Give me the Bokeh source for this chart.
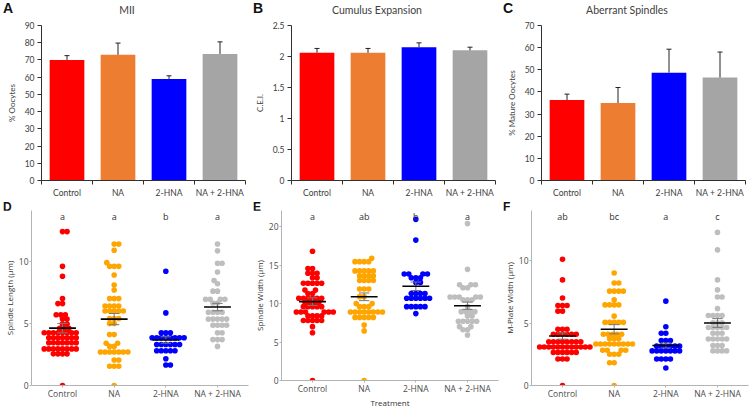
import numpy as np
from bokeh.plotting import figure
from bokeh.layouts import column, row
from bokeh.models import Range1d, FixedTicker, NumeralTickFormatter, Div
from bokeh.core.properties import value
from bokeh.embed import file_html
from bokeh.resources import INLINE

# ---------------- data ----------------
categories = ["Control", "NA", "2-HNA", "NA + 2-HNA"]
bar_colors = ["#FF0000", "#ED7D31", "#0000FF", "#A5A5A5"]
dot_colors = ["#FF0000", "#FFA500", "#0000FF", "#BEBEBE"]

# A: MII
mii_mean = [70.0, 73.0, 59.0, 73.5]
mii_err = [2.5, 6.8, 1.8, 7.0]
# B: Cumulus expansion index
cei_mean = [2.06, 2.06, 2.15, 2.10]
cei_err = [0.07, 0.07, 0.07, 0.05]
# C: Aberrant spindles
aberrant_mean = [36.3, 35.0, 48.7, 46.5]
aberrant_err = [2.7, 7.0, 10.6, 11.5]

# D: Spindle length (um)
length_control = [12.4]*2 + [9.6, 8.8, 7.0] + [6.6]*2 + [5.7]*3 + [5.35]*2 + [4.95]*2 + [4.6]*3 + [4.25]*8 + [3.85]*7 + [3.45]*7 + [2.95]*8 + [2.55]*4 + [0.0]
length_na = [11.4]*2 + [10.9, 9.9] + [9.6]*3 + [8.9, 8.1, 7.7] + [7.0]*3 + [6.4]*4 + [6.0]*5 + [5.4]*3 + [5.0]*2 + [4.1]*2 + [3.4]*2 + [3.15]*2 + [2.7]*7 + [2.05]*2 + [1.55]*3 + [0.0]
length_hna = [9.2, 5.85] + [4.25]*3 + [3.85]*8 + [3.3]*6 + [2.8]*5 + [2.15] + [1.65]*2
length_combo = [11.4, 10.85] + [9.85]*2 + [9.15, 8.45, 8.2] + [7.6]*2 + [6.95]*4 + [6.65]*2 + [5.9]*4 + [5.35]*5 + [4.85]*4 + [4.25]*2 + [3.7]*3 + [3.15]
length_mean = [4.62, 5.35, 3.67, 6.32]
length_se = [0.38, 0.45, 0.26, 0.30]
length_letters = ["a", "a", "b", "a"]

# E: Spindle width (um)
width_control = [16.8] + [14.55]*2 + [13.95]*3 + [13.35]*2 + [12.65]*5 + [11.75]*2 + [11.3]*2 + [10.7]*6 + [10.15]*4 + [9.6]*5 + [8.9]*6 + [8.4]*4 + [7.8]*5 + [7.0, 6.2, 0.0]
width_na = [15.9] + [15.45]*4 + [14.25]*5 + [13.6]*4 + [13.0]*4 + [11.9]*3 + [10.9]*2 + [10.0]*2 + [9.6]*3 + [8.9]*8 + [8.2]*5 + [7.2, 6.45, 0.0]
width_hna = [20.95, 18.25] + [13.85]*4 + [13.35]*3 + [12.75]*2 + [11.3]*4 + [10.7]*6 + [9.6]*5 + [8.7]
width_combo = [20.4, 14.45] + [12.45]*3 + [12.05]*2 + [10.85]*5 + [10.5]*3 + [9.6] + [8.95]*4 + [8.4]*2 + [7.7]*5 + [7.0]*2 + [6.6]*2 + [5.9]
width_mean = [10.25, 10.88, 12.25, 9.72]
width_se = [0.50, 0.50, 0.55, 0.47]
width_letters = ["a", "ab", "b", "a"]

# F: M-plate width (um)
plate_control = [10.1, 8.45, 7.0] + [6.4]*3 + [5.95]*2 + [4.5]*3 + [4.1]*6 + [3.5]*8 + [3.08]*12 + [2.65]*6 + [2.12]*3 + [0.0]
plate_na = [9.0] + [8.2]*2 + [7.55]*4 + [6.85] + [6.45]*4 + [5.55] + [5.05]*5 + [4.1]*5 + [3.75]*3 + [3.32]*9 + [2.82]*4 + [2.5]*3 + [1.82]*2 + [0.0]
plate_hna = [6.75, 4.7] + [4.18]*2 + [3.6]*3 + [3.15]*6 + [2.77]*7 + [2.12]*4 + [1.4]
plate_combo = [12.25, 10.85, 8.45, 7.65] + [7.08]*2 + [6.15] + [5.6]*4 + [5.02]*3 + [4.64]*5 + [4.18]*3 + [3.72]*5 + [3.2]*3 + [2.77]*4
plate_mean = [3.96, 4.50, 3.20, 5.00]
plate_se = [0.25, 0.37, 0.20, 0.35]
plate_letters = ["ab", "bc", "a", "c"]

# ---------------- layout constants ----------------
COL_W = [250, 250, 254]
TOP_HEAD, TOP_FIG = 20, 180
BOT_HEAD, BOT_FIG = 10, 200
TOP_L, TOP_T, TOP_B = 41, 5, 17
BOT_L, BOT_T, BOT_B = 25, 0, 25

TOP_FONT = "Lato"
BOT_FONT = "Open Sans"
xs = np.arange(1, len(categories) + 1)


def top_header(letter, title, w):
    html = (f'<div style="position:relative;width:{w}px;height:{TOP_HEAD}px;overflow:hidden;">'
            f'<span style="position:absolute;left:3px;top:1px;font-family:\'Liberation Sans\';font-weight:bold;'
            f'font-size:14px;line-height:14px;color:#111111;">{letter}</span>'
            f'<span style="position:absolute;left:127px;top:4px;transform:translateX(-50%);white-space:nowrap;'
            f'font-family:Lato;font-size:10.5px;line-height:12px;color:#404040;">{title}</span></div>')
    return Div(text=html, width=w, height=TOP_HEAD, margin=0)


def bottom_header(letter, w):
    html = (f'<div style="position:relative;width:{w}px;height:{BOT_HEAD}px;">'
            f'<span style="position:absolute;left:3px;top:-1px;font-family:\'Liberation Sans\';font-weight:bold;'
            f'font-size:12px;line-height:12px;color:#111111;">{letter}</span></div>')
    return Div(text=html, width=w, height=BOT_HEAD, margin=0)


def bar_panel(ylabel, means, errs, ymax, ystep, w, formatter=None):
    right = w - TOP_L - 204
    x0, x1 = 0.5, len(categories) + 0.5
    p = figure(width=w, height=TOP_FIG, output_backend="svg", toolbar_location=None,
               x_range=Range1d(x0, x1), y_range=Range1d(0, ymax),
               min_border_left=TOP_L, min_border_right=right,
               min_border_top=TOP_T, min_border_bottom=TOP_B)
    p.outline_line_color = None
    p.grid.visible = False

    means = np.array(means)
    errs = np.array(errs)
    p.vbar(x=xs, top=means, width=0.68, fill_color=bar_colors, line_color=None)
    p.segment(x0=xs, y0=means, x1=xs, y1=means + errs, line_color="#222222", line_width=1)
    p.scatter(x=xs, y=means + errs, marker="dash", size=5, line_color="#222222", line_width=1)

    xa = p.xaxis[0]
    xa.ticker = FixedTicker(ticks=list(xs), minor_ticks=list(np.arange(0.5, len(categories) + 1, 1.0)))
    xa.major_label_overrides = {int(i): c for i, c in zip(xs, categories)}
    xa.major_tick_out = 0
    xa.major_tick_in = 0
    xa.minor_tick_out = 4
    xa.minor_tick_in = 0
    xa.major_label_standoff = 3
    ya = p.yaxis[0]
    ya.ticker = FixedTicker(ticks=list(np.arange(0, ymax + ystep / 2, ystep)), minor_ticks=[])
    if formatter is not None:
        ya.formatter = formatter
    ya.major_tick_out = 4
    ya.major_tick_in = 0
    ya.major_label_standoff = 3
    ya.axis_label = ylabel
    ya.axis_label_standoff = 5
    for ax in (xa, ya):
        ax.axis_line_color = "#303030"
        ax.major_tick_line_color = "#303030"
        ax.minor_tick_line_color = "#303030"
        ax.major_label_text_font = TOP_FONT
        ax.major_label_text_font_size = "8.5px"
        ax.major_label_text_color = "#404040"
        ax.axis_label_text_font = TOP_FONT
        ax.axis_label_text_font_size = "8px"
        ax.axis_label_text_font_style = "normal"
        ax.axis_label_text_color = "#404040"
    return p


def swarm_offsets(vals, ppu_x, ppu_y, diam):
    vals = np.asarray(vals, dtype=float)
    order = np.argsort(vals, kind="stable")
    placed = []
    out = np.zeros(len(vals))
    for idx in order:
        ypx = vals[idx] * ppu_y
        cands = [0.0]
        for px, py in placed:
            dy = ypx - py
            if abs(dy) < diam:
                dx = np.sqrt(diam ** 2 - dy ** 2)
                cands += [px + dx, px - dx]
        cands.sort(key=lambda c: (round(abs(c), 6), -c if len(placed) % 2 else c))
        chosen = cands[-1]
        for c in cands:
            if all((c - px) ** 2 + (ypx - py) ** 2 >= diam ** 2 - 1e-6 for px, py in placed):
                chosen = c
                break
        placed.append((chosen, ypx))
        out[idx] = chosen / ppu_x
    return out


def dot_panel(ylabel, groups, means, ses, letters, ymax, ystep, w, xlabel=None):
    right = w - BOT_L - 223
    x0, x1 = 0.4, len(categories) + 0.6
    p = figure(width=w, height=BOT_FIG, output_backend="svg", toolbar_location=None,
               x_range=Range1d(x0, x1), y_range=Range1d(0, ymax),
               min_border_left=BOT_L, min_border_right=right,
               min_border_top=BOT_T, min_border_bottom=BOT_B)
    p.outline_line_color = None
    p.grid.visible = False
    frame_w = w - BOT_L - right
    frame_h = BOT_FIG - BOT_T - BOT_B
    ppu_x = frame_w / (x1 - x0)
    ppu_y = frame_h / ymax
    for i, (vals, col) in enumerate(zip(groups, dot_colors)):
        off = swarm_offsets(vals, ppu_x, ppu_y, 4.7)
        p.scatter(x=xs[i] + off, y=vals, size=5.6, fill_color=col, line_color=None)
    means = np.array(means)
    ses = np.array(ses)
    p.segment(x0=xs, y0=means - ses, x1=xs, y1=means + ses, line_color="#777777", line_width=1)
    p.segment(x0=xs - 0.1, y0=means - ses, x1=xs + 0.1, y1=means - ses, line_color="#777777", line_width=1)
    p.segment(x0=xs - 0.1, y0=means + ses, x1=xs + 0.1, y1=means + ses, line_color="#777777", line_width=1)
    p.segment(x0=xs - 0.26, y0=means, x1=xs + 0.26, y1=means, line_color="#000000", line_width=1.6)
    p.text(x=xs, y=[ymax - 6 / ppu_y] * len(xs), text=letters, text_align="center", text_baseline="middle",
           text_font=value(BOT_FONT), text_font_size="9px", text_color="#333333")

    xa = p.xaxis[0]
    xa.ticker = FixedTicker(ticks=list(xs), minor_ticks=[])
    xa.major_label_overrides = {int(i): c for i, c in zip(xs, categories)}
    ya = p.yaxis[0]
    ya.ticker = FixedTicker(ticks=list(np.arange(0, ymax, ystep)), minor_ticks=[])
    ya.axis_label = ylabel
    if xlabel:
        xa.axis_label = xlabel
    for ax in (xa, ya):
        ax.axis_line_color = "#B3B3B3"
        ax.major_tick_line_color = "#B3B3B3"
        ax.major_tick_out = 2
        ax.major_tick_in = 0
        ax.minor_tick_out = 0
        ax.minor_tick_in = 0
        ax.major_label_text_font = BOT_FONT
        ax.major_label_text_font_size = "8.5px"
        ax.major_label_text_color = "#4D4D4D"
        ax.axis_label_text_font = BOT_FONT
        ax.axis_label_text_font_size = "8px"
        ax.axis_label_text_font_style = "normal"
        ax.axis_label_text_color = "#333333"
    xa.major_label_standoff = 0
    xa.axis_label_standoff = 0
    ya.major_label_standoff = 1
    ya.axis_label_standoff = 1
    return p


pa = bar_panel("% Oocytes", mii_mean, mii_err, 90, 10, COL_W[0])
pb = bar_panel("C.E.I.", cei_mean, cei_err, 2.5, 0.5, COL_W[1], NumeralTickFormatter(format="0.[0]"))
pc = bar_panel("% Mature Oocytes", aberrant_mean, aberrant_err, 70, 10, COL_W[2])

pd_ = dot_panel("Spindle Length (µm)", [length_control, length_na, length_hna, length_combo],
                length_mean, length_se, length_letters, 14.1, 5, COL_W[0])
pe = dot_panel("Spindle Width (µm)", [width_control, width_na, width_hna, width_combo],
               width_mean, width_se, width_letters, 22.1, 5, COL_W[1], xlabel="Treatment")
pf = dot_panel("M-Plate Width (µm)", [plate_control, plate_na, plate_hna, plate_combo],
               plate_mean, plate_se, plate_letters, 14.0, 5, COL_W[2])

top_row = row(column(top_header("A", "MII", COL_W[0]), pa, spacing=0),
              column(top_header("B", "Cumulus Expansion", COL_W[1]), pb, spacing=0),
              column(top_header("C", "Aberrant Spindles", COL_W[2]), pc, spacing=0), spacing=0)
bottom_row = row(column(bottom_header("D", COL_W[0]), pd_, spacing=0),
                 column(bottom_header("E", COL_W[1]), pe, spacing=0),
                 column(bottom_header("F", COL_W[2]), pf, spacing=0), spacing=0)
page = column(top_row, bottom_row, spacing=0)
open("out.html", "w").write(file_html(page, INLINE))
